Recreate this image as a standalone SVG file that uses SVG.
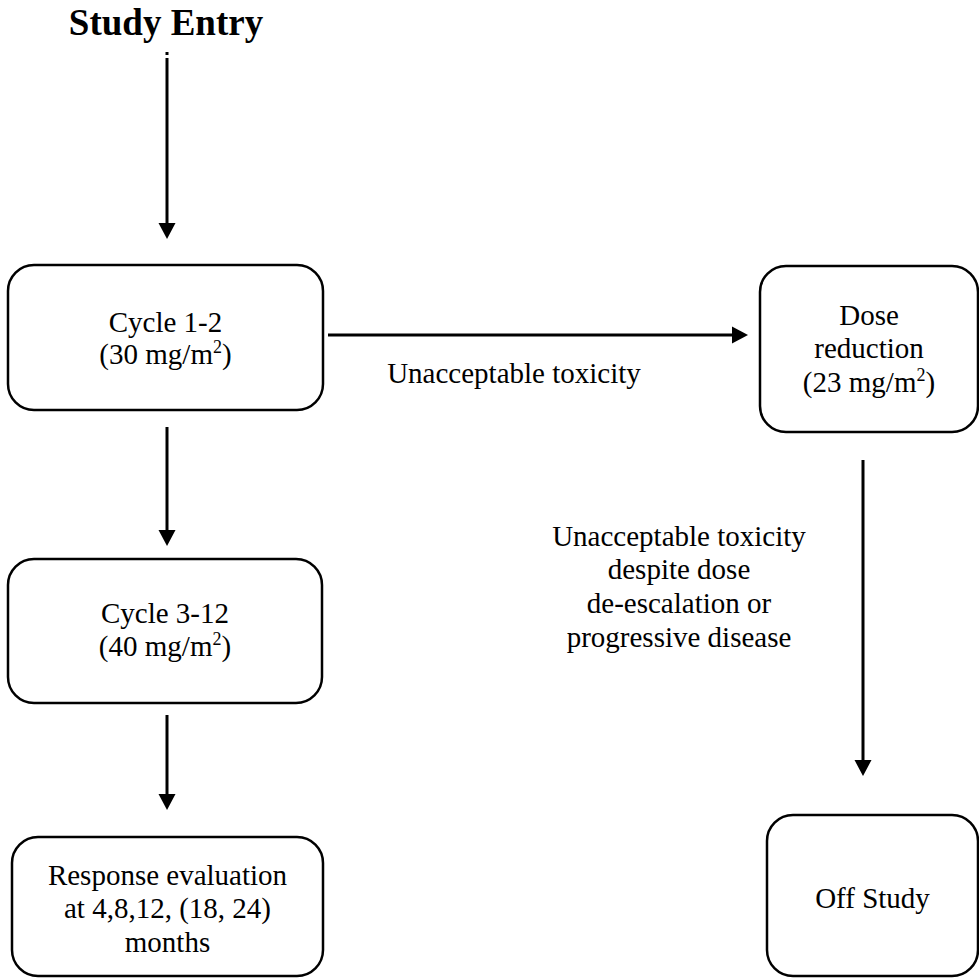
<svg xmlns="http://www.w3.org/2000/svg" width="979" height="979" viewBox="0 0 979 979">
  <style>
    .box { fill: #ffffff; stroke: #000000; stroke-width: 2.5; }
    .lbl { font-family: "Liberation Serif", "Times New Roman", serif; font-size: 29px; fill: #000000; text-anchor: middle; }
    .title { font-family: "Liberation Serif", "Times New Roman", serif; font-size: 37px; font-weight: bold; fill: #000000; text-anchor: middle; }
    .sup { font-size: 18px; }
    .conn { fill: none; stroke: #000000; stroke-width: 3; marker-end: url(#head); }
    .plain { fill: none; stroke: #000000; stroke-width: 3; }
  </style>
  <defs>
    <marker id="head" markerUnits="userSpaceOnUse" markerWidth="16" markerHeight="18" viewBox="0 0 16 18" refX="9" refY="9" orient="auto">
      <path d="M0,0.5 L16,9 L0,17.5 Z" fill="#000000"/>
    </marker>
  </defs>

  <!-- title -->
  <g id="study-entry">
    <text class="title" x="166" y="35">Study Entry</text>
  </g>

  <!-- connectors -->
  <g id="connectors">
    <path class="plain" d="M167,52 V55"/>
    <path class="conn" d="M167,58 V232"/>
    <path class="conn" d="M167,427 V539"/>
    <path class="conn" d="M167,715 V803"/>
    <path class="conn" d="M328,335 H741"/>
    <path class="conn" d="M863,460 V769"/>
  </g>

  <g id="cycle-1-2">
    <rect class="box" x="8" y="265" width="315" height="145" rx="26" ry="26"/>
    <text class="lbl" x="165.5" y="332">Cycle 1-2</text>
    <text class="lbl" x="165.5" y="364">(30 mg/m<tspan class="sup" dy="-11">2</tspan><tspan dy="11">)</tspan></text>
  </g>

  <g id="cycle-3-12">
    <rect class="box" x="8" y="559" width="314" height="144" rx="26" ry="26"/>
    <text class="lbl" x="165" y="623">Cycle 3-12</text>
    <text class="lbl" x="165" y="656">(40 mg/m<tspan class="sup" dy="-11">2</tspan><tspan dy="11">)</tspan></text>
  </g>

  <g id="response-evaluation">
    <rect class="box" x="12" y="837" width="311" height="139" rx="26" ry="26"/>
    <text class="lbl" x="167.5" y="885">Response evaluation</text>
    <text class="lbl" x="167.5" y="918">at 4,8,12, (18, 24)</text>
    <text class="lbl" x="167.5" y="952">months</text>
  </g>

  <g id="dose-reduction">
    <rect class="box" x="760" y="266" width="218" height="166" rx="26" ry="26"/>
    <text class="lbl" x="869" y="325">Dose</text>
    <text class="lbl" x="869" y="358">reduction</text>
    <text class="lbl" x="869" y="392">(23 mg/m<tspan class="sup" dy="-11">2</tspan><tspan dy="11">)</tspan></text>
  </g>

  <g id="off-study">
    <rect class="box" x="767" y="815" width="211" height="161" rx="26" ry="26"/>
    <text class="lbl" x="872.5" y="908">Off Study</text>
  </g>

  <!-- edge labels -->
  <g id="edge-labels">
    <text class="lbl" x="514" y="383">Unacceptable toxicity</text>
    <text class="lbl" x="679" y="546">Unacceptable toxicity</text>
    <text class="lbl" x="679" y="579">despite dose</text>
    <text class="lbl" x="679" y="613">de-escalation or</text>
    <text class="lbl" x="679" y="647">progressive disease</text>
  </g>
</svg>
